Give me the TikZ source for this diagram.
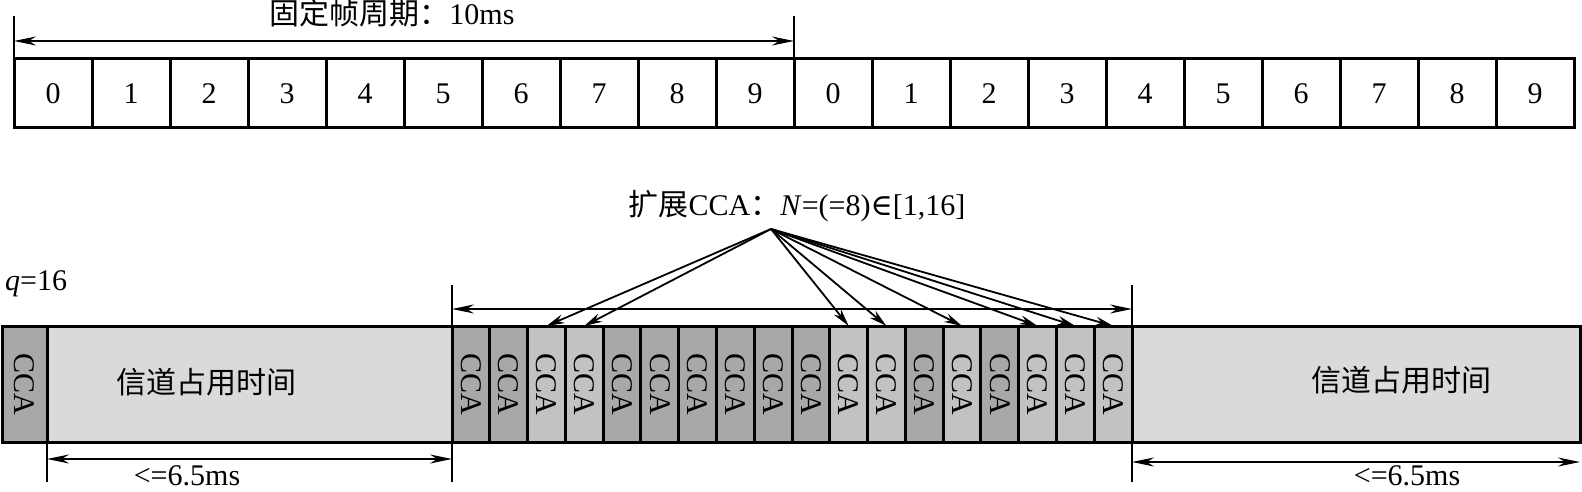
\documentclass[tikz,border=0pt]{standalone}
\usepackage{fontspec}
\setmainfont{Liberation Serif}
\newfontfamily\cjk{Noto Sans CJK SC}
\newfontfamily\symf{DejaVu Serif}
\usepackage{graphicx}
\usetikzlibrary{arrows.meta}
\definecolor{ccadark}{HTML}{A8A8A8}
\definecolor{ccalight}{HTML}{C2C2C2}
\definecolor{occgray}{HTML}{DADADA}
\begin{document}
\begin{tikzpicture}[x=1pt,y=-1pt,
  font=\fontsize{30}{36}\selectfont,
  topbox/.style={draw, line width=3pt, minimum width=78pt, minimum height=69pt, inner sep=0pt, outer sep=0pt},
  ccabox/.style={draw, line width=3pt, minimum width=37.78pt, minimum height=116pt, inner sep=0pt, outer sep=0pt},
  occbox/.style={draw, line width=3pt, fill=occgray, minimum height=116pt, inner sep=0pt, outer sep=0pt},
  dimline/.style={line width=2pt, {Stealth[length=22pt,width=9pt]}-{Stealth[length=22pt,width=9pt]}},
  tickline/.style={line width=1.6pt},
  fan/.style={line width=1.8pt, -{Stealth[length=18pt,width=9pt]}},
  lbl/.style={inner sep=0pt}]
\useasboundingbox (0,0) rectangle (1582,492);

% top frame row
\foreach \i in {0,...,19} {
  \pgfmathtruncatemacro\d{mod(\i,10)}
  \node[topbox] (t\i) at ({53+78*\i},93.5) {\d};
}
\draw[tickline] (t0.north west) -- ([yshift=43pt]t0.north west);
\draw[tickline] (t10.north west) -- ([yshift=43pt]t10.north west);
\draw[dimline] ([yshift=18pt]t0.north west) -- ([yshift=18pt]t10.north west);
\node[lbl, anchor=base] (title) at (392,25) {{\cjk 固定帧周期：}10ms};

% bottom row
\node[ccabox, fill=ccadark, minimum width=45pt] (c0) at (24.5,384) {\rotatebox{-90}{CCA}};
\node[occbox, minimum width=405pt] (occL) at (249.5,384) {};
\foreach \i/\c in {1/ccadark,2/ccadark,3/ccalight,4/ccalight,5/ccadark,6/ccadark,7/ccadark,8/ccadark,9/ccadark,10/ccadark,11/ccalight,12/ccalight,13/ccadark,14/ccalight,15/ccadark,16/ccalight,17/ccalight,18/ccalight} {
  \node[ccabox, fill=\c] (c\i) at ({452+37.78*(\i-0.5)},384) {\rotatebox{-90}{CCA}};
}
\node[occbox, minimum width=448pt] (occR) at (1356,384) {};
\node[lbl] (occLt) at (206,382) {\cjk 信道占用时间};
\node[lbl] (occRt) at (1401,380) {\cjk 信道占用时间};
\node[lbl, anchor=base west] (q) at (5,290) {\textit{q}=16};

% middle dimension
\draw[tickline] (c1.north west) -- ([yshift=41pt]c1.north west);
\draw[tickline] (c18.north east) -- ([yshift=41pt]c18.north east);
\draw[dimline] ([yshift=17pt]c1.north west) -- ([yshift=17pt]c18.north east);

% fan arrows
\coordinate (src) at (771,229);
\node[lbl, anchor=base] (ext) at (797,215) {{\cjk 扩展}CCA{\cjk ：}\textit{N}=(=8){\symf ∈}[1,16]};
\foreach \i in {3,4,11,12,14,16,17,18} {
  \draw[fan] (src) -- (c\i.north);
}

% bottom dimensions
\draw[tickline] (occL.south west) -- ([yshift=-40pt]occL.south west);
\draw[tickline] (occL.south east) -- ([yshift=-40pt]occL.south east);
\draw[dimline] ([yshift=-17pt]occL.south west) -- ([yshift=-17pt]occL.south east);
\node[lbl, anchor=base] (msL) at (187,485) {<=6.5ms};

\draw[tickline] (occR.south west) -- ([yshift=-40pt]occR.south west);
\draw[dimline] ([yshift=-20pt]occR.south west) -- ([yshift=-20pt]occR.south east);
\node[lbl, anchor=base] (msR) at (1407,485) {<=6.5ms};
\end{tikzpicture}
\end{document}
